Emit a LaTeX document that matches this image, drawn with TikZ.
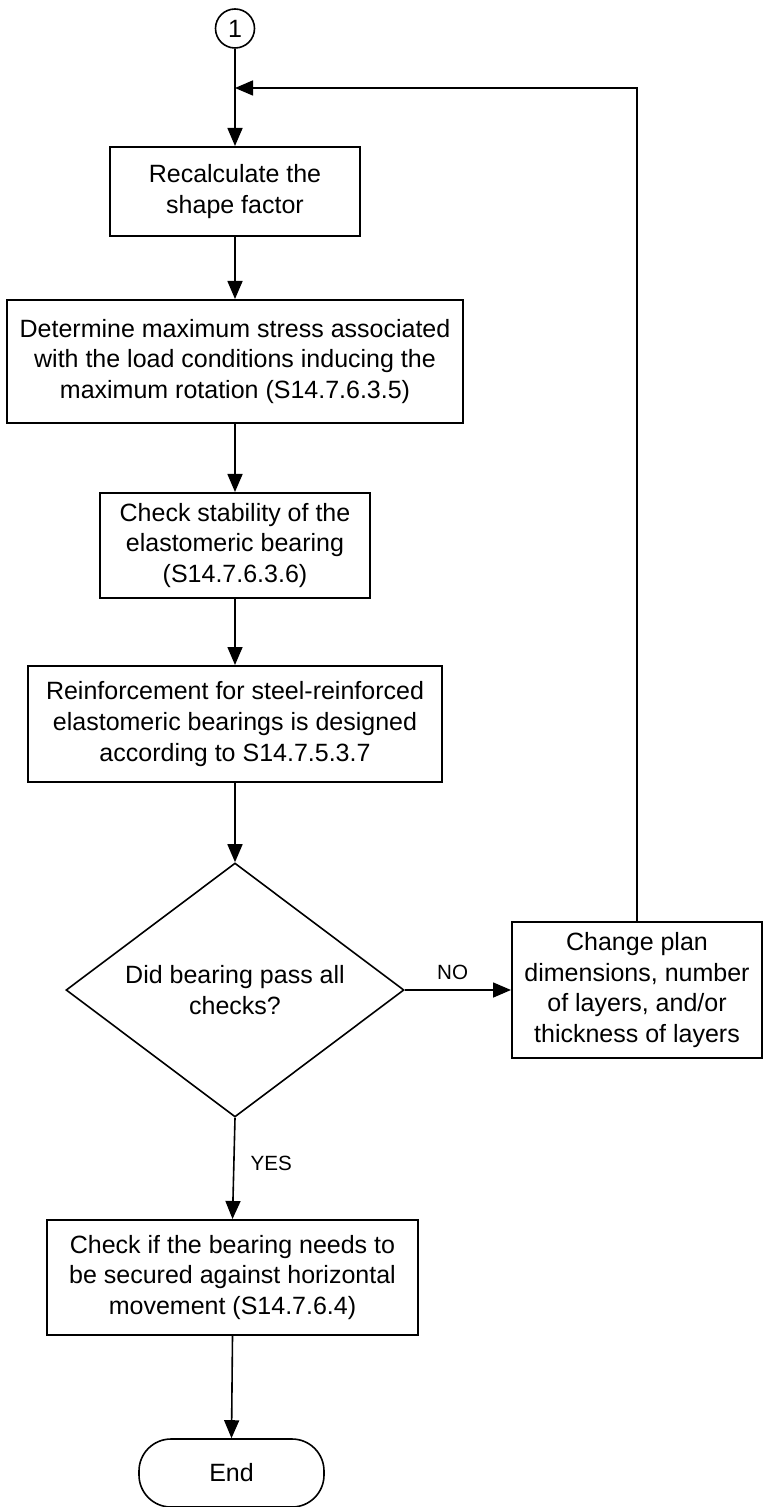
\documentclass[tikz,border=0pt]{standalone}
\usepackage{fontspec}
\setmainfont{Liberation Sans}
\usetikzlibrary{arrows.meta,shapes.geometric}
\begin{document}
\begin{tikzpicture}[x=0.5pt,y=-0.5pt,
  boxnode/.style={draw,line width=1pt,align=center,inner sep=0pt,
    font=\fontsize{12.5}{15.3}\selectfont},
  conn/.style={line width=0.8pt,-{Triangle[length=9pt,width=7.5pt]}},
  lbl/.style={font=\fontsize{10.3}{12}\selectfont,inner sep=0pt}]
\useasboundingbox (0,0) rectangle (763,1507);
\node[draw,circle,line width=0.8pt,minimum size=19.5pt,inner sep=0pt,
  font=\fontsize{12.5}{15}\selectfont] (c1) at (235,28.5) {1};
\node[boxnode,minimum width=125pt,minimum height=44.5pt] (b1) at (235,191.5)
  {Recalculate the\\shape factor};
\node[boxnode,minimum width=228pt,minimum height=61.5pt] (b2) at (235,361.5)
  {Determine maximum stress associated\\with the load conditions inducing the\\maximum rotation (S14.7.6.3.5)};
\node[boxnode,minimum width=135pt,minimum height=52.5pt] (b3) at (235,545.5)
  {Check stability of the\\elastomeric bearing\\(S14.7.6.3.6)};
\node[boxnode,minimum width=207pt,minimum height=58pt] (b4) at (235,724)
  {Reinforcement for steel-reinforced\\elastomeric bearings is designed\\according to S14.7.5.3.7};
\node[boxnode,shape=diamond,aspect=1.33,line width=0.8pt,minimum width=169pt,minimum height=127pt] (d) at (235,990)
  {Did bearing pass all\\checks?};
\node[boxnode,minimum width=125pt,minimum height=68pt] (ch) at (637,990)
  {Change plan\\dimensions, number\\of layers, and/or\\thickness of layers};
\node[boxnode,minimum width=185.5pt,minimum height=57.5pt] (b5) at (232.5,1277.5)
  {Check if the bearing needs to\\be secured against horizontal\\movement (S14.7.6.4)};
\node[boxnode,line width=0.8pt,rounded corners=16pt,minimum width=92.5pt,minimum height=34pt] (e) at (231.5,1473)
  {End};
\coordinate (j) at (235,88);
\draw[conn] (c1.south) -- (b1.north);
\draw[conn] (ch.north) |- (j);
\draw[conn] (b1.south) -- (b2.north);
\draw[conn] (b2.south) -- (b3.north);
\draw[conn] (b3.south) -- (b4.north);
\draw[conn] (b4.south) -- (d.north);
\draw[conn] (d.east) -- (ch.west) node[lbl,pos=0.45,above=5pt] {NO};
\draw[conn] (d.south) -- (b5.north) node[lbl,pos=0.45,right=8pt] {YES};
\draw[conn] (b5.south) -- (e.north);
\end{tikzpicture}
\end{document}
